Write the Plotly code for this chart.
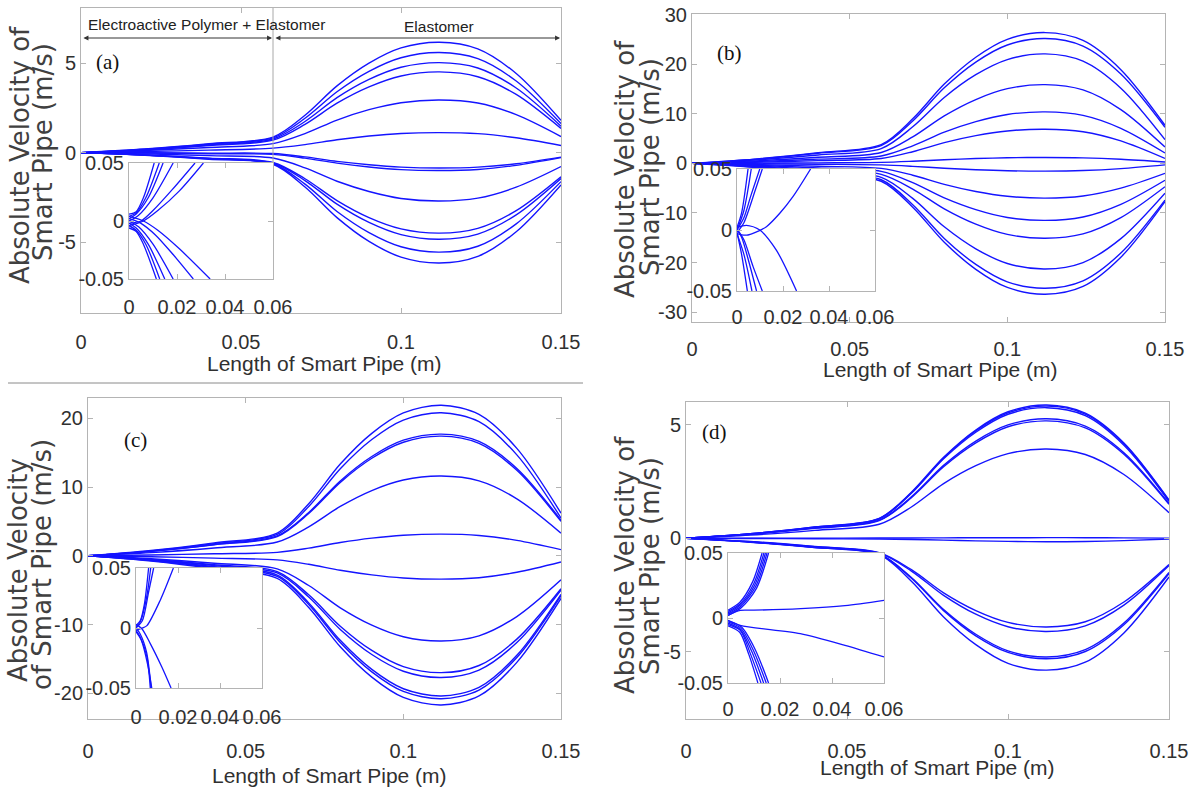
import plotly.graph_objects as go

W, H = 1194, 789

# ---------------- data ----------------
X_MAIN = [0, 0.02, 0.04, 0.06, 0.07, 0.08, 0.09, 0.1, 0.112, 0.124, 0.136, 0.15]
X_TICKS = [0, 0.05, 0.1, 0.15]
X_TICK_TEXT = ["0", "0.05", "0.1", "0.15"]
INSET_X_TICKS = [0, 0.02, 0.04, 0.06]
INSET_X_TEXT = ["0", "0.02", "0.04", "0.06"]
INSET_Y_TICKS = [-0.05, 0, 0.05]
INSET_Y_TEXT = ["-0.05", "0", "0.05"]

VEL_A = [
    [0, 0.20, 0.50, 0.87, 2.09, 3.73, 5.00, 5.85, 6.17, 5.80, 4.42, 1.80],
    [0, 0.19, 0.47, 0.82, 1.92, 3.40, 4.54, 5.30, 5.59, 5.25, 4.00, 1.62],
    [0, 0.17, 0.43, 0.76, 1.74, 3.07, 4.09, 4.77, 5.03, 4.73, 3.61, 1.48],
    [0, 0.16, 0.40, 0.70, 1.58, 2.76, 3.67, 4.28, 4.51, 4.24, 3.25, 1.35],
    [0, 0.12, 0.29, 0.50, 1.06, 1.82, 2.40, 2.79, 2.94, 2.77, 2.12, 0.90],
    [0, 0.06, 0.14, 0.25, 0.45, 0.72, 0.93, 1.07, 1.12, 1.06, 0.83, 0.40],
    [0, -0.01, -0.03, -0.05, -0.24, -0.49, -0.68, -0.81, -0.86, -0.81, -0.62, -0.25],
    [0, -0.02, -0.06, -0.10, -0.31, -0.59, -0.80, -0.95, -1.00, -0.94, -0.71, -0.28],
    [0, -0.07, -0.17, -0.30, -0.85, -1.60, -2.17, -2.56, -2.70, -2.54, -1.93, -0.78],
    [0, -0.13, -0.31, -0.55, -1.46, -2.68, -3.63, -4.26, -4.50, -4.23, -3.24, -1.35],
    [0, -0.13, -0.33, -0.58, -1.56, -2.88, -3.90, -4.58, -4.84, -4.55, -3.48, -1.45],
    [0, -0.14, -0.35, -0.62, -1.76, -3.29, -4.47, -5.26, -5.56, -5.23, -3.98, -1.62],
    [0, -0.15, -0.37, -0.65, -1.92, -3.63, -4.96, -5.84, -6.17, -5.80, -4.42, -1.80],
]
VEL_B = [
    [0, 0.87, 2.17, 3.80, 9.00, 16.00, 21.43, 25.04, 26.40, 24.81, 18.92, 7.70],
    [0, 0.83, 2.05, 3.60, 8.57, 15.26, 20.45, 23.90, 25.20, 23.68, 18.04, 7.30],
    [0, 0.69, 1.71, 3.00, 7.39, 13.31, 17.90, 20.95, 22.10, 20.63, 15.18, 4.80],
    [0, 0.51, 1.25, 2.20, 5.35, 9.60, 12.89, 15.08, 15.90, 14.83, 10.86, 3.30],
    [0, 0.35, 0.86, 1.50, 3.55, 6.31, 8.44, 9.87, 10.40, 9.69, 7.08, 2.10],
    [0, 0.23, 0.57, 1.00, 2.36, 4.19, 5.60, 6.55, 6.90, 6.40, 4.54, 1.00],
    [0, 0.05, 0.11, 0.20, 0.43, 0.74, 0.98, 1.14, 1.20, 1.12, 0.84, 0.30],
    [0, -0.07, -0.17, -0.30, -0.59, -0.98, -1.28, -1.48, -1.55, -1.44, -1.05, -0.30],
    [0, -0.23, -0.57, -1.00, -2.38, -4.24, -5.68, -6.64, -7.00, -6.58, -5.00, -2.00],
    [0, -0.37, -0.91, -1.60, -3.88, -6.95, -9.32, -10.91, -11.50, -10.81, -8.26, -3.40],
    [0, -0.51, -1.25, -2.20, -5.17, -9.17, -12.26, -14.33, -15.10, -14.22, -10.94, -4.70],
    [0, -0.64, -1.60, -2.80, -7.06, -12.79, -17.23, -20.19, -21.30, -20.00, -15.18, -6.00],
    [0, -0.76, -1.88, -3.30, -8.34, -15.13, -20.38, -23.89, -25.20, -23.69, -18.08, -7.40],
    [0, -0.83, -2.05, -3.60, -8.84, -15.91, -21.38, -25.03, -26.40, -24.81, -18.92, -7.70],
]
VEL_C = [
    [0, 0.76, 1.88, 3.30, 7.58, 13.34, 17.81, 20.78, 21.90, 20.57, 15.62, 6.20],
    [0, 0.71, 1.77, 3.10, 7.17, 12.66, 16.91, 19.74, 20.80, 19.50, 14.68, 5.50],
    [0, 0.67, 1.65, 2.90, 6.30, 10.89, 14.44, 16.81, 17.70, 16.64, 12.70, 5.20],
    [0, 0.64, 1.60, 2.80, 6.16, 10.68, 14.19, 16.52, 17.40, 16.35, 12.44, 5.00],
    [0, 0.46, 1.14, 2.00, 4.21, 7.18, 9.49, 11.02, 11.60, 10.89, 8.28, 3.30],
    [0, 0.12, 0.29, 0.50, 1.11, 1.93, 2.57, 2.99, 3.15, 2.96, 2.25, 0.90],
    [0, -0.14, -0.34, -0.60, -1.24, -2.11, -2.78, -3.23, -3.40, -3.19, -2.40, -0.90],
    [0, -0.44, -1.08, -1.90, -4.32, -7.57, -10.09, -11.77, -12.40, -11.64, -8.84, -3.50],
    [0, -0.53, -1.31, -2.30, -5.68, -10.24, -13.77, -16.12, -17.00, -15.96, -12.12, -4.80],
    [0, -0.58, -1.43, -2.50, -6.00, -10.71, -14.36, -16.79, -17.70, -16.62, -12.62, -5.00],
    [0, -0.64, -1.60, -2.80, -6.85, -12.30, -16.53, -19.34, -20.40, -19.14, -14.48, -5.60],
    [0, -0.69, -1.71, -3.00, -7.09, -12.61, -16.88, -19.73, -20.80, -19.53, -14.80, -5.80],
    [0, -0.76, -1.88, -3.30, -7.53, -13.24, -17.65, -20.60, -21.70, -20.38, -15.50, -6.20],
]
VEL_D = [
    [0, 0.20, 0.50, 0.88, 2.03, 3.57, 4.77, 5.57, 5.87, 5.51, 4.20, 1.69],
    [0, 0.20, 0.50, 0.87, 2.01, 3.54, 4.73, 5.52, 5.82, 5.47, 4.16, 1.66],
    [0, 0.20, 0.48, 0.85, 1.98, 3.50, 4.67, 5.46, 5.75, 5.40, 4.10, 1.62],
    [0, 0.18, 0.46, 0.80, 1.83, 3.21, 4.28, 4.99, 5.26, 4.94, 3.77, 1.54],
    [0, 0.18, 0.44, 0.78, 1.79, 3.15, 4.20, 4.91, 5.17, 4.86, 3.70, 1.50],
    [0, 0.14, 0.35, 0.62, 1.38, 2.41, 3.20, 3.73, 3.93, 3.69, 2.81, 1.13],
    [0, 0.005, 0.009, 0.014, 0.017, 0.021, 0.025, 0.028, 0.030, 0.028, 0.020, 0.010],
    [0, -0.007, -0.017, -0.030, -0.050, -0.080, -0.110, -0.135, -0.150, -0.140, -0.100, -0.030],
    [0, -0.14, -0.36, -0.63, -1.38, -2.40, -3.18, -3.70, -3.90, -3.67, -2.80, -1.15],
    [0, -0.15, -0.37, -0.65, -1.44, -2.51, -3.34, -3.89, -4.10, -3.85, -2.94, -1.20],
    [0, -0.16, -0.39, -0.68, -1.72, -3.13, -4.22, -4.95, -5.22, -4.90, -3.73, -1.50],
    [0, -0.16, -0.40, -0.70, -1.76, -3.18, -4.29, -5.02, -5.30, -4.98, -3.80, -1.55],
    [0, -0.17, -0.41, -0.72, -1.89, -3.46, -4.68, -5.50, -5.80, -5.45, -4.16, -1.70],
]

INSET_A_X = [
    [0, 0.003, 0.006, 0.0105], [0, 0.003, 0.007, 0.0126], [0, 0.003, 0.008, 0.0142],
    [0, 0.004, 0.010, 0.0184], [0, 0.005, 0.010, 0.018, 0.0275], [0, 0.006, 0.012, 0.021, 0.031],
    [0, 0.003, 0.006, 0.0114], [0, 0.003, 0.007, 0.0128], [0, 0.003, 0.008, 0.0149],
    [0, 0.004, 0.010, 0.0184], [0, 0.005, 0.011, 0.018, 0.0268], [0, 0.006, 0.012, 0.021, 0.0338],
]
INSET_A_Y = [
    [0.006, 0.008, 0.02, 0.05], [0.004, 0.007, 0.02, 0.05], [0.002, 0.006, 0.02, 0.05],
    [0.0, 0.005, 0.02, 0.05], [-0.002, 0.0, 0.009, 0.027, 0.05], [-0.004, 0.0, 0.009, 0.026, 0.05],
    [-0.006, -0.009, -0.02, -0.05], [-0.004, -0.008, -0.02, -0.05], [-0.002, -0.006, -0.02, -0.05],
    [0.0, -0.005, -0.02, -0.05], [0.002, -0.002, -0.012, -0.028, -0.05], [0.004, 0.0, -0.008, -0.024, -0.05],
]
INSET_B_X = [
    [0, 0.002, 0.0048], [0, 0.003, 0.0062], [0, 0.003, 0.006, 0.0099], [0, 0.003, 0.008, 0.011],
    [0, 0.002, 0.0048, 0.008, 0.0128, 0.0186, 0.0244, 0.032],
    [0, 0.0041, 0.0099, 0.0171, 0.0259],
    [0, 0.002, 0.0045], [0, 0.003, 0.0065], [0, 0.002, 0.005, 0.0085], [0, 0.003, 0.007, 0.011],
]
INSET_B_Y = [
    [0.002, 0.014, 0.05], [0.0, 0.016, 0.05], [0.0, 0.01, 0.028, 0.05], [-0.002, 0.006, 0.033, 0.05],
    [-0.003, -0.004, -0.0041, -0.002, 0.0027, 0.0137, 0.0275, 0.05],
    [0.002, 0.0038, 0.0, -0.0165, -0.05],
    [-0.002, -0.02, -0.05], [-0.003, -0.02, -0.05], [0.0, -0.006, -0.025, -0.05], [0.001, -0.008, -0.03, -0.05],
]
INSET_C_X = [
    [0, 0.002, 0.004, 0.006], [0, 0.002, 0.005, 0.007], [0, 0.003, 0.006, 0.0084],
    [0, 0.003, 0.0052, 0.0115, 0.0178],
    [0, 0.002, 0.0052, 0.0068], [0, 0.002, 0.005, 0.0072], [0, 0.0025, 0.0055, 0.0075],
    [0, 0.0028, 0.0068, 0.0123, 0.0167],
]
INSET_C_Y = [
    [0.002, 0.006, 0.02, 0.05], [0.001, 0.005, 0.025, 0.05], [0.0, 0.006, 0.03, 0.05],
    [-0.002, 0.0, 0.002, 0.023, 0.05],
    [-0.002, -0.0075, -0.024, -0.05], [0.0, -0.005, -0.02, -0.05], [-0.003, -0.01, -0.03, -0.05],
    [0.003, -0.0006, -0.013, -0.0325, -0.05],
]
INSET_D_X = [
    [0, 0.0045, 0.0095, 0.0131], [0, 0.0047, 0.0099, 0.0138], [0, 0.0048, 0.0102, 0.0144],
    [0, 0.005, 0.0106, 0.015], [0, 0.0052, 0.011, 0.0156],
    [0, 0.0047, 0.01, 0.028, 0.045, 0.06], [0, 0.0047, 0.0278, 0.045, 0.06],
    [0, 0.0045, 0.008, 0.0115], [0, 0.0047, 0.0086, 0.0127], [0, 0.0048, 0.0092, 0.0137],
    [0, 0.005, 0.0098, 0.0147], [0, 0.0052, 0.0104, 0.0156],
]
INSET_D_Y = [
    [0.006, 0.012, 0.028, 0.05], [0.005, 0.011, 0.0264, 0.05], [0.004, 0.010, 0.025, 0.05],
    [0.003, 0.009, 0.024, 0.05], [0.002, 0.008, 0.023, 0.05],
    [0.002, 0.0059, 0.006, 0.0072, 0.0095, 0.0136], [-0.0018, -0.0056, -0.012, -0.021, -0.03],
    [-0.006, -0.011, -0.028, -0.05], [-0.005, -0.0095, -0.0274, -0.05], [-0.004, -0.009, -0.026, -0.05],
    [-0.003, -0.008, -0.025, -0.05], [-0.002, -0.007, -0.024, -0.05],
]

Y_TICKS_A = [-5, 0, 5]
Y_TICKS_B = [-30, -20, -10, 0, 10, 20, 30]
Y_TICKS_C = [-20, -10, 0, 10, 20]
Y_TICKS_D = [-5, 0, 5]
Y_RANGE_A = [-8.96, 8.08]
Y_RANGE_B = [-32.0, 30.15]
Y_RANGE_C = [-23.74, 22.95]
Y_RANGE_D = [-7.95, 6.0]

TITLE_X = "Length of Smart Pipe (m)"
PANEL_LABELS = ["(a)", "(b)", "(c)", "(d)"]
YTITLE_LINES = [
    ["Absolute Velocity of", "Smart Pipe (m/s)"],
    ["Absolute Velocity of", "Smart Pipe (m/s)"],
    ["Absolute Velocity", "of Smart Pipe (m/s)"],
    ["Absolute Velocity of", "Smart Pipe (m/s)"],
]

# ---------------- layout helpers ----------------
def fx(p):
    return p / W


def fy(p):
    return 1 - p / H


BLUE = "rgb(20,20,255)"
AXC = "#b4b4b4"
SANS = "Liberation Sans, Arial, sans-serif"
TICK_FONT = dict(family=SANS, size=20, color="#303030")

# main boxes (left, right, top, bottom in px) and inset boxes
MAIN_BOX = [(81, 561, 8, 313), (692, 1165, 14, 322), (88, 561, 398, 719), (686, 1169, 402, 719)]
INSET_BOX = [(129, 273, 163, 279), (737, 875, 169, 291), (136, 262, 568, 688), (728, 884, 553, 683)]
MAIN_XSTAND = [11, 9, 14, 14]
INSET_XSTAND = [10, 8, 11, 8]

VELS = [VEL_A, VEL_B, VEL_C, VEL_D]
INSETS = [(INSET_A_X, INSET_A_Y), (INSET_B_X, INSET_B_Y), (INSET_C_X, INSET_C_Y), (INSET_D_X, INSET_D_Y)]
YTICKS = [Y_TICKS_A, Y_TICKS_B, Y_TICKS_C, Y_TICKS_D]
YRANGES = [Y_RANGE_A, Y_RANGE_B, Y_RANGE_C, Y_RANGE_D]

fig = go.Figure()

common = dict(showline=True, linecolor=AXC, linewidth=1, mirror="ticks", ticks="inside",
              ticklen=5, tickcolor=AXC, showgrid=False, zeroline=False, tickfont=TICK_FONT,
              fixedrange=True, automargin=False, tickangle=0)

layout_axes = {}
for i in range(4):
    n = i + 1
    m = i + 5
    l, r, t, b = MAIN_BOX[i]
    layout_axes["xaxis" if n == 1 else f"xaxis{n}"] = dict(
        common, domain=[fx(l), fx(r)], range=[0, 0.15], anchor="y" if n == 1 else f"y{n}",
        tickvals=X_TICKS, ticktext=X_TICK_TEXT, ticklabelstandoff=MAIN_XSTAND[i])
    layout_axes["yaxis" if n == 1 else f"yaxis{n}"] = dict(
        common, domain=[fy(b), fy(t)], range=YRANGES[i], anchor="x" if n == 1 else f"x{n}",
        tickvals=YTICKS[i], ticktext=[str(v) for v in YTICKS[i]])
    l, r, t, b = INSET_BOX[i]
    layout_axes[f"xaxis{m}"] = dict(
        common, domain=[fx(l), fx(r)], range=[0, 0.06], anchor=f"y{m}",
        tickvals=INSET_X_TICKS, ticktext=INSET_X_TEXT, ticklabelstandoff=INSET_XSTAND[i])
    layout_axes[f"yaxis{m}"] = dict(
        common, domain=[fy(b), fy(t)], range=[-0.05, 0.05], anchor=f"x{m}",
        tickvals=INSET_Y_TICKS, ticktext=INSET_Y_TEXT)

for i in range(4):
    n = i + 1
    xa = "x" if n == 1 else f"x{n}"
    ya = "y" if n == 1 else f"y{n}"
    for vals in VELS[i]:
        fig.add_trace(go.Scatter(x=X_MAIN, y=vals, xaxis=xa, yaxis=ya, mode="lines",
                                 line=dict(color=BLUE, width=1.4, shape="spline", smoothing=0.9),
                                 showlegend=False, hoverinfo="skip"))
for i in range(4):
    m = i + 5
    xs, ys = INSETS[i]
    for xv, yv in zip(xs, ys):
        fig.add_trace(go.Scatter(x=xv, y=yv, xaxis=f"x{m}", yaxis=f"y{m}", mode="lines",
                                 line=dict(color=BLUE, width=1.3, shape="spline", smoothing=0.8),
                                 showlegend=False, hoverinfo="skip"))

annotations = []
# axis titles
XTITLE_POS = [(324, 363), (941, 370), (329, 775), (937, 767)]
for (px, py) in XTITLE_POS:
    annotations.append(dict(text=TITLE_X, x=fx(px), y=fy(py), xref="paper", yref="paper",
                            showarrow=False, xanchor="center", yanchor="middle",
                            font=dict(family=SANS, size=21, color="#303030")))
YTITLE_POS = [((20, 155), (43, 152)), ((625, 169), (650, 167)), ((18, 570), (42, 565)), ((625, 565), (650, 566))]
for lines, pos in zip(YTITLE_LINES, YTITLE_POS):
    for txt, (px, py) in zip(lines, pos):
        annotations.append(dict(text=txt, x=fx(px), y=fy(py), xref="paper", yref="paper",
                                showarrow=False, textangle=-90, xanchor="center", yanchor="middle",
                                font=dict(family="DejaVu Sans, Arial, sans-serif", size=26, color="#404040")))
# panel labels
LABEL_POS = [(107, 62), (730, 53), (135, 440), (715, 432)]
for txt, (px, py) in zip(PANEL_LABELS, LABEL_POS):
    annotations.append(dict(text=txt, x=fx(px), y=fy(py), xref="paper", yref="paper",
                            showarrow=False, xanchor="center", yanchor="middle",
                            font=dict(family="Liberation Serif, Times New Roman, serif", size=21, color="#111")))
# region labels for panel (a)
annotations.append(dict(text="Electroactive Polymer + Elastomer", x=fx(206), y=fy(25), xref="paper", yref="paper",
                        showarrow=False, xanchor="center", yanchor="middle",
                        font=dict(family=SANS, size=15.5, color="#222")))
annotations.append(dict(text="Elastomer", x=fx(439), y=fy(27), xref="paper", yref="paper",
                        showarrow=False, xanchor="center", yanchor="middle",
                        font=dict(family=SANS, size=15.5, color="#222")))
for x0, x1 in [(0.0003, 0.0597), (0.0603, 0.1497)]:
    annotations.append(dict(text="", x=x1, y=fy(38), ax=x0, ay=0, xref="x", yref="paper",
                            axref="x", ayref="pixel", showarrow=True, arrowhead=2, startarrowhead=2,
                            arrowside="end+start", arrowsize=1, startarrowsize=1, arrowwidth=1,
                            arrowcolor="#333", standoff=0, startstandoff=0))

shapes = [
    dict(type="line", xref="x", yref="paper", x0=0.06, x1=0.06, y0=fy(163), y1=fy(8),
         line=dict(color="#a8a8a8", width=1), layer="above"),
    dict(type="line", xref="paper", yref="paper", x0=fx(8), x1=fx(583), y0=fy(383), y1=fy(383),
         line=dict(color="#8a8a8a", width=1), layer="above"),
]

fig.update_layout(width=W, height=H, margin=dict(l=0, r=0, t=0, b=0, autoexpand=False),
                  paper_bgcolor="white", plot_bgcolor="white", showlegend=False,
                  annotations=annotations, shapes=shapes, **layout_axes)

fig.write_html("out.html", config={"displayModeBar": False},
               post_script="document.body.style.margin='0';document.body.style.overflow='hidden';")
